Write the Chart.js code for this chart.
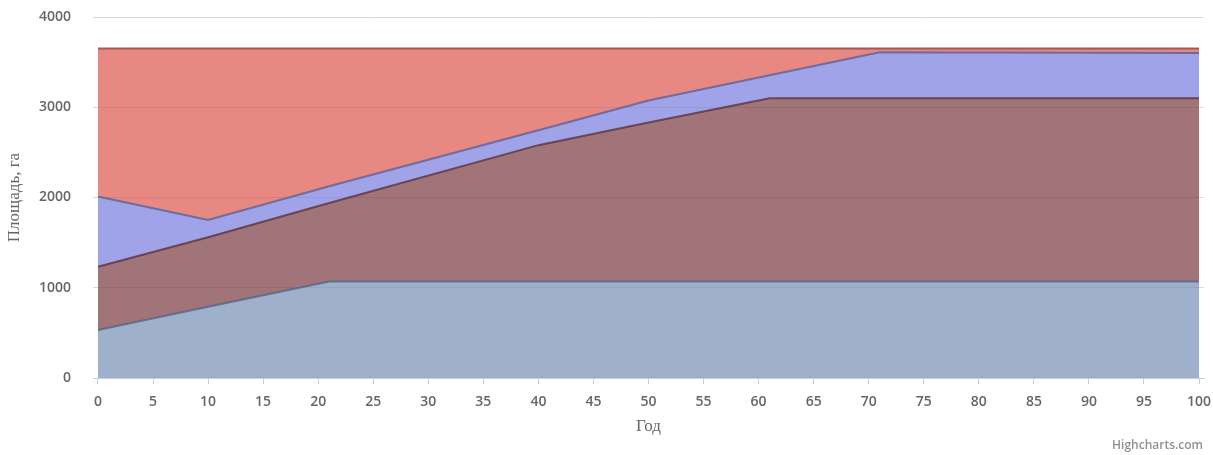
<!DOCTYPE html>
<html lang="ru">
<head>
  <meta charset="UTF-8" />
  <title>Площадь по годам</title>
  <script src="https://cdn.jsdelivr.net/npm/chart.js"></script>
  <style>
    body { margin: 0; background: #fff; }
    .wrap { position: relative; width: 1213px; height: 455px; }
    canvas { display: block; }
    .credits {
      position: absolute; right: 10px; bottom: 2px;
      font-family: 'Open Sans', sans-serif; font-weight: 600;
      font-size: 12px; color: #909090;
    }
  </style>
</head>
<body>
  <div class="wrap">
    <canvas id="areaChart" width="1213" height="455"></canvas>
    <div class="credits">Highcharts.com</div>
  </div>

  <script>
  // years where the stacked boundaries change slope
  const years = [0, 10, 21, 40, 50, 61, 71, 100];

  // stacked series values (bottom to top), га
  const seriesA = [532, 790, 1068, 1068, 1068, 1068, 1068, 1068];
  const seriesB = [701, 770, 872, 1512, 1762, 2032, 2032, 2032];
  const seriesC = [777, 190, 185, 165, 245, 255, 510, 500];
  const seriesD = [1640, 1900, 1525, 905, 575, 295, 40, 50];

  const xTicks = [0, 5, 10, 15, 20, 25, 30, 35, 40, 45, 50, 55, 60, 65, 70, 75, 80, 85, 90, 95, 100];
  const yTicks = [0, 1000, 2000, 3000, 4000];

  const toPoints = vals => vals.map((v, i) => ({ x: years[i], y: v }));

  function makeSet(vals, fillColor, lineColor, fill) {
    return {
      data: toPoints(vals),
      backgroundColor: fillColor,
      borderColor: lineColor,
      borderWidth: 2,
      pointRadius: 0,
      tension: 0,
      fill: fill
    };
  }

  const ctx = document.getElementById('areaChart').getContext('2d');

  new Chart(ctx, {
    type: 'line',
    data: {
      datasets: [
        makeSet(seriesA, 'rgba(125,150,184,0.75)', 'rgba(80,100,130,0.8)', 'origin'),
        makeSet(seriesB, 'rgba(128,70,76,0.75)', 'rgba(95,55,62,0.85)', '-1'),
        makeSet(seriesC, 'rgba(128,132,224,0.75)', 'rgba(95,100,150,0.85)', '-1'),
        makeSet(seriesD, 'rgba(224,96,90,0.75)', 'rgba(150,70,70,0.85)', '-1')
      ]
    },
    options: {
      responsive: false,
      animation: false,
      layout: { padding: { top: 17, right: 9, left: 0, bottom: 14 } },
      plugins: {
        legend: { display: false },
        tooltip: { enabled: false }
      },
      scales: {
        x: {
          type: 'linear',
          min: -0.45,
          max: 100.45,
          afterBuildTicks: scale => { scale.ticks = xTicks.map(v => ({ value: v })); },
          afterFit: scale => {
            scale.height = 63;
            // keep the "100" label from shrinking the plot
            scale.paddingLeft = 0;
            scale.paddingRight = 0;
          },
          grid: {
            display: true,
            drawOnChartArea: false,
            color: '#C0D0E0',
            tickLength: 6
          },
          border: { color: '#C0D0E0', width: 1 },
          ticks: {
            color: '#666',
            font: { family: 'Open Sans', size: 14, weight: '600' },
            padding: 10,
            maxRotation: 0
          },
          title: {
            display: true,
            text: 'Год',
            color: '#666',
            font: { family: 'Liberation Serif', size: 17 },
            padding: { top: 8 }
          }
        },
        y: {
          stacked: true,
          min: 0,
          max: 4000,
          afterBuildTicks: scale => { scale.ticks = yTicks.map(v => ({ value: v })); },
          afterFit: scale => {
            scale.width = 93;
            scale.paddingTop = 0;
            scale.paddingBottom = 0;
          },
          grid: {
            color: '#D8D8D8',
            lineWidth: 1,
            drawTicks: false
          },
          border: { display: false },
          ticks: {
            color: '#666',
            font: { family: 'Open Sans', size: 14, weight: '600' },
            padding: 22,
            callback: v => String(v)
          },
          title: {
            display: true,
            text: 'Площадь, га',
            color: '#666',
            font: { family: 'Liberation Serif', size: 17 },
            padding: { bottom: 0 }
          }
        }
      }
    }
  });
  </script>
</body>
</html>
